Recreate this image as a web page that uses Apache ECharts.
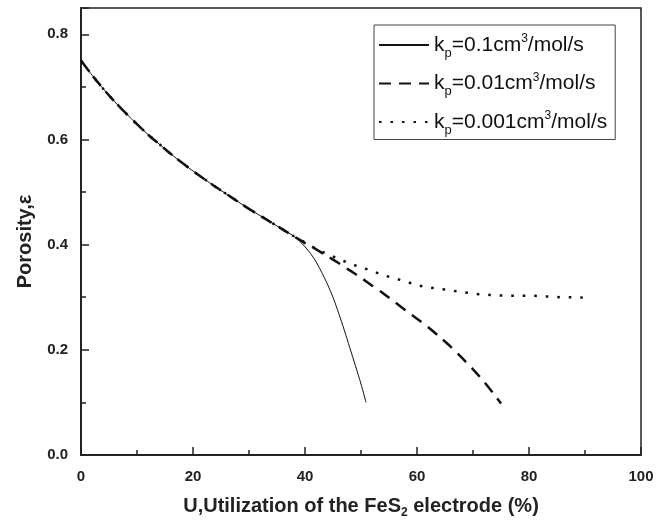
<!DOCTYPE html>
<html><head><meta charset="utf-8">
<script src="https://cdn.jsdelivr.net/npm/echarts@6/dist/echarts.min.js"></script>
<style>html,body{margin:0;padding:0;background:#fff}#c{width:670px;height:524px}</style>
</head><body><div id="c"></div>
<script>
// Data
const seriesNames = ['kp=0.1', 'kp=0.01', 'kp=0.001'];
const commonU = [0,2,4,6,8,10,12,14,16,18,20,22,24,26,28,30,32,34,36,38];
const commonV = [0.750,0.722,0.696,0.672,0.650,0.629,0.609,0.591,0.573,0.556,0.540,0.525,0.510,0.496,0.482,0.468,0.455,0.442,0.429,0.416];
const solidU = [39,40,41,42,43,44,45,46,47,48,49,50,50.9];
const solidV = [0.407,0.396,0.383,0.367,0.347,0.325,0.300,0.270,0.238,0.204,0.170,0.135,0.100];
const dashU = [40,42,44,46,48,50,52,54,56,58,60,62,64,66,68,70,72,74,75];
const dashV = [0.403,0.391,0.378,0.365,0.351,0.337,0.322,0.307,0.291,0.275,0.259,0.243,0.225,0.206,0.185,0.163,0.139,0.112,0.098];
const dotU = [40,42,44,46,48,50,52,54,56,58,60,62,64,66,68,70,72,74,76,78,80,82,84,86,88,90];
const dotV = [0.404,0.392,0.382,0.373,0.364,0.357,0.350,0.342,0.336,0.330,0.323,0.319,0.316,0.313,0.310,0.307,0.305,0.304,0.303,0.303,0.303,0.302,0.301,0.300,0.300,0.299];
const legendLabels = {
  'kp=0.1': '{t|k}{sub|p}{t|=0.1cm}{sup|3}{t|/mol/s}',
  'kp=0.01': '{t|k}{sub|p}{t|=0.01cm}{sup|3}{t|/mol/s}',
  'kp=0.001': '{t|k}{sub|p}{t|=0.001cm}{sup|3}{t|/mol/s}'
};

function pairs(us, vs) { return us.map((u, i) => [u, vs[i]]); }
const common = pairs(commonU, commonV);
const d1 = common.concat(pairs(solidU, solidV));
const d2 = common.concat(pairs(dashU, dashV));
const d3 = common.concat(pairs(dotU, dotV));

const FONT = 'Liberation Sans, Arial, sans-serif';
const chart = echarts.init(document.getElementById('c'));
chart.setOption({
  animation: false,
  backgroundColor: '#fff',
  grid: { left: 81, right: 29, top: 8, bottom: 66, show: true, borderColor: '#222', borderWidth: 1.5, backgroundColor: 'transparent' },
  legend: {
    orient: 'vertical', left: 374, top: 25,
    padding: [8, 8, 3, 4], itemGap: 12, itemWidth: 50, itemHeight: 14,
    borderColor: '#444', borderWidth: 1, backgroundColor: '#fff',
    itemStyle: { opacity: 0 },
    data: seriesNames,
    formatter: n => legendLabels[n],
    textStyle: {
      fontFamily: FONT, color: '#111',
      rich: {
        t: { fontSize: 21, fontFamily: FONT, color: '#111' },
        sub: { fontSize: 13, fontFamily: FONT, color: '#111', padding: [16, 0, 0, 0] },
        sup: { fontSize: 12, fontFamily: FONT, color: '#111', padding: [0, 0, 12, 0] }
      }
    }
  },
  xAxis: {
    type: 'value', min: 0, max: 100, interval: 20,
    name: '{b|U,Utilization of the FeS}{s|2}{b| electrode (%)}',
    nameLocation: 'middle', nameGap: 38,
    nameTextStyle: {
      rich: {
        b: { fontSize: 20, fontWeight: 'bold', fontFamily: FONT, color: '#222' },
        s: { fontSize: 12, fontWeight: 'bold', fontFamily: FONT, color: '#222', padding: [14, 0, 0, 0] }
      }
    },
    axisLine: { onZero: false, lineStyle: { color: '#222', width: 2 } },
    axisTick: { inside: true, length: 8, lineStyle: { color: '#222', width: 1.5 } },
    minorTick: { show: true, splitNumber: 2, length: 5, lineStyle: { color: '#222', width: 1.5 } },
    axisLabel: { fontSize: 15, fontWeight: 'bold', fontFamily: FONT, color: '#222', margin: 14 },
    splitLine: { show: false }
  },
  yAxis: {
    type: 'value', min: 0, max: 0.85, interval: 0.2,
    name: 'Porosity,ε', nameLocation: 'middle', nameGap: 46,
    nameTextStyle: { fontSize: 20, fontWeight: 'bold', fontFamily: FONT, color: '#222', padding: [0, 0, 0, -20] },
    axisLine: { onZero: false, lineStyle: { color: '#222', width: 2 } },
    axisTick: { inside: true, length: 8, lineStyle: { color: '#222', width: 1.5 } },
    minorTick: { show: true, splitNumber: 2, length: 5, lineStyle: { color: '#222', width: 1.5 } },
    axisLabel: { fontSize: 15, fontWeight: 'bold', fontFamily: FONT, color: '#222', margin: 13, showMaxLabel: false,
      formatter: v => (Math.abs(v - 0.85) < 1e-6 ? '' : v.toFixed(1)) },
    splitLine: { show: false }
  },
  series: [
    { name: seriesNames[0], type: 'line', data: d1, smooth: 0.3, symbol: 'none', z: 3,
      lineStyle: { color: '#111', width: 1, type: 'solid' }, itemStyle: { color: '#111' } },
    { name: seriesNames[1], type: 'line', data: d2, smooth: 0.3, symbol: 'none', z: 2,
      lineStyle: { color: '#111', width: 2.5, type: [12, 8] }, itemStyle: { color: '#111' } },
    { name: seriesNames[2], type: 'line', data: d3, smooth: 0.3, symbol: 'none', z: 2,
      lineStyle: { color: '#111', width: 2.5, type: [2.5, 9] }, itemStyle: { color: '#111' } }
  ]
});
</script></body></html>
